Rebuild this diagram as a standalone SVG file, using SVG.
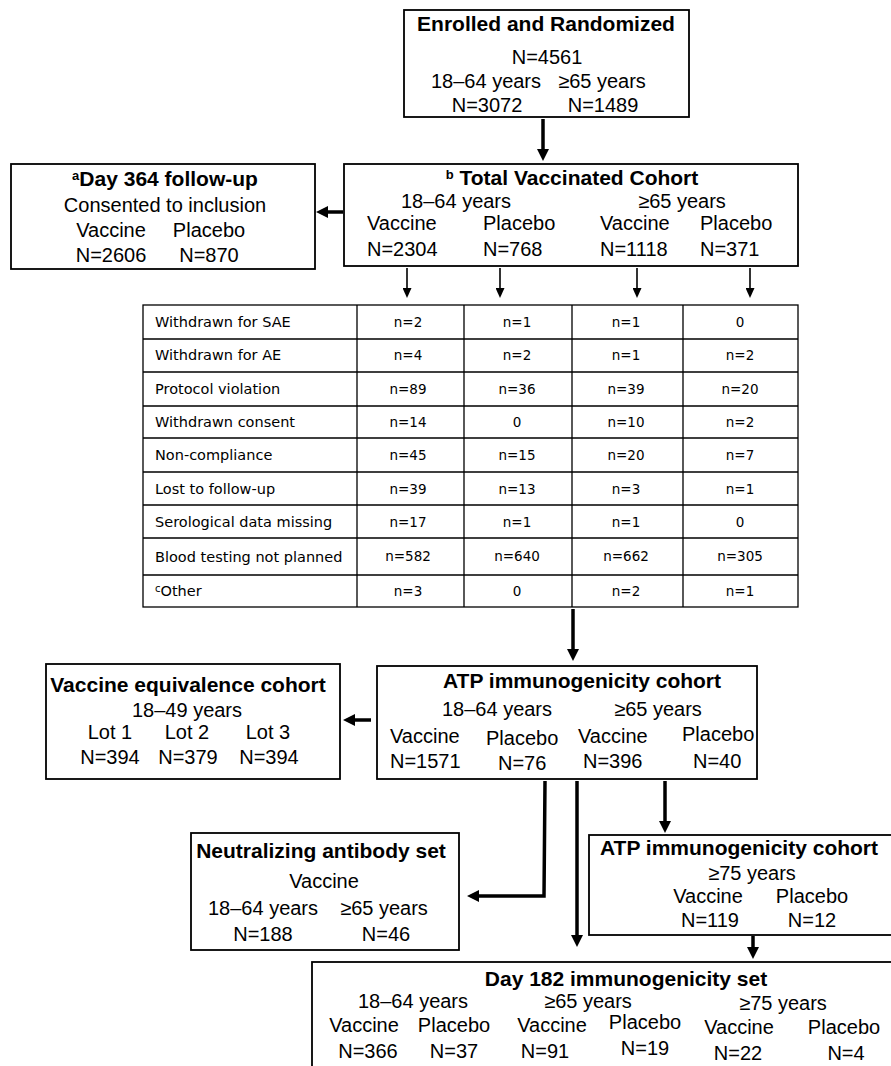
<svg xmlns="http://www.w3.org/2000/svg" width="891" height="1066" viewBox="0 0 891 1066">
<style>
text{font-family:"Liberation Sans",Arial,sans-serif;font-size:20px;fill:#000}
.t{font-weight:bold;font-size:21px}
.m{text-anchor:middle}
.box{fill:#fff;stroke:#000;stroke-width:1.8}
.thick{fill:none;stroke:#000;stroke-width:3.5}
.thin{fill:none;stroke:#000;stroke-width:1.6}
.tab{fill:none;stroke:#000;stroke-width:1.3}
.lb{font-family:"DejaVu Sans",sans-serif;font-size:14.5px}
.nv{font-family:"DejaVu Sans",sans-serif;font-size:13.5px;text-anchor:middle}
</style>
<defs>
<marker id="hk" markerUnits="userSpaceOnUse" markerWidth="13" markerHeight="12" refX="3" refY="6" orient="auto">
<path d="M0,0 L12,6 L0,12 z" fill="#000"/>
</marker>
<marker id="hn" markerUnits="userSpaceOnUse" markerWidth="11" markerHeight="9" refX="2" refY="4.5" orient="auto">
<path d="M0,0 L10,4.5 L0,9 z" fill="#000"/>
</marker>
</defs>
<rect width="891" height="1066" fill="#fff"/>

<g id="connectors">
<line class="thick" x1="543" y1="119" x2="543" y2="152" marker-end="url(#hk)"/>
<line class="thick" x1="343" y1="212" x2="325" y2="212" marker-end="url(#hk)"/>
<line class="thin" x1="407" y1="268" x2="407" y2="290" marker-end="url(#hn)"/>
<line class="thin" x1="500" y1="268" x2="500" y2="290" marker-end="url(#hn)"/>
<line class="thin" x1="637" y1="268" x2="637" y2="290" marker-end="url(#hn)"/>
<line class="thin" x1="750" y1="268" x2="750" y2="290" marker-end="url(#hn)"/>
<line class="thick" x1="573" y1="609" x2="573" y2="652" marker-end="url(#hk)"/>
<line class="thick" x1="371" y1="720" x2="352" y2="720" marker-end="url(#hk)"/>
<path class="thick" d="M545,781 L544,896 L476,896" marker-end="url(#hk)"/>
<line class="thick" x1="577" y1="781" x2="577" y2="938" marker-end="url(#hk)"/>
<line class="thick" x1="665" y1="781" x2="665" y2="824" marker-end="url(#hk)"/>
<line class="thick" x1="753" y1="936" x2="753" y2="950" marker-end="url(#hk)"/>
</g>

<g id="enrolled">
<rect class="box" x="404" y="10" width="285" height="107"/>
<text class="t m" x="546" y="31">Enrolled and Randomized</text>
<text class="m" x="547" y="64">N=4561</text>
<text class="m" x="486" y="88">18–64 years</text>
<text class="m" x="602" y="88">≥65 years</text>
<text class="m" x="487" y="112">N=3072</text>
<text class="m" x="603" y="112">N=1489</text>
</g>

<g id="day364">
<rect class="box" x="11" y="164" width="304" height="105"/>
<text class="t m" x="165" y="186"><tspan font-size="13" dy="-6">a</tspan><tspan dy="6">Day 364 follow-up</tspan></text>
<text class="m" x="165" y="212">Consented to inclusion</text>
<text class="m" x="111" y="237">Vaccine</text>
<text class="m" x="209" y="237">Placebo</text>
<text class="m" x="111" y="262">N=2606</text>
<text class="m" x="209" y="262">N=870</text>
</g>

<g id="tvc">
<rect class="box" x="344" y="164" width="454" height="102"/>
<text class="t m" x="572" y="185"><tspan font-size="13" dy="-6">b</tspan><tspan dy="6"> Total Vaccinated Cohort</tspan></text>
<text class="m" x="456" y="208">18–64 years</text>
<text class="m" x="682" y="208">≥65 years</text>
<text x="367" y="230">Vaccine</text>
<text x="483" y="230">Placebo</text>
<text x="600" y="230">Vaccine</text>
<text x="700" y="230">Placebo</text>
<text x="367" y="256">N=2304</text>
<text x="483" y="256">N=768</text>
<text x="600" y="256">N=1118</text>
<text x="700" y="256">N=371</text>
</g>

<g id="withdrawals">
<rect class="tab" x="143" y="305" width="655" height="302"/>
<path class="tab" d="M357,305V607M464,305V607M572,305V607M683,305V607M143,339H798M143,372H798M143,406H798M143,438H798M143,472H798M143,505H798M143,538H798M143,575H798"/>
<text class="lb" x="155" y="327">Withdrawn for SAE</text>
<text class="lb" x="155" y="360">Withdrawn for AE</text>
<text class="lb" x="155" y="394">Protocol violation</text>
<text class="lb" x="155" y="427">Withdrawn consent</text>
<text class="lb" x="155" y="460">Non-compliance</text>
<text class="lb" x="155" y="494">Lost to follow-up</text>
<text class="lb" x="155" y="527">Serological data missing</text>
<text class="lb" x="155" y="562">Blood testing not planned</text>
<text class="lb" x="155" y="596"><tspan font-size="10" dy="-4">c</tspan><tspan dy="4">Other</tspan></text>
<text class="nv" x="408" y="327">n=2</text><text class="nv" x="517" y="327">n=1</text><text class="nv" x="626" y="327">n=1</text><text class="nv" x="740" y="327">0</text>
<text class="nv" x="408" y="360">n=4</text><text class="nv" x="517" y="360">n=2</text><text class="nv" x="626" y="360">n=1</text><text class="nv" x="740" y="360">n=2</text>
<text class="nv" x="408" y="394">n=89</text><text class="nv" x="517" y="394">n=36</text><text class="nv" x="626" y="394">n=39</text><text class="nv" x="740" y="394">n=20</text>
<text class="nv" x="408" y="427">n=14</text><text class="nv" x="517" y="427">0</text><text class="nv" x="626" y="427">n=10</text><text class="nv" x="740" y="427">n=2</text>
<text class="nv" x="408" y="460">n=45</text><text class="nv" x="517" y="460">n=15</text><text class="nv" x="626" y="460">n=20</text><text class="nv" x="740" y="460">n=7</text>
<text class="nv" x="408" y="494">n=39</text><text class="nv" x="517" y="494">n=13</text><text class="nv" x="626" y="494">n=3</text><text class="nv" x="740" y="494">n=1</text>
<text class="nv" x="408" y="527">n=17</text><text class="nv" x="517" y="527">n=1</text><text class="nv" x="626" y="527">n=1</text><text class="nv" x="740" y="527">0</text>
<text class="nv" x="408" y="561">n=582</text><text class="nv" x="517" y="561">n=640</text><text class="nv" x="626" y="561">n=662</text><text class="nv" x="740" y="561">n=305</text>
<text class="nv" x="408" y="596">n=3</text><text class="nv" x="517" y="596">0</text><text class="nv" x="626" y="596">n=2</text><text class="nv" x="740" y="596">n=1</text>
</g>

<g id="atp">
<rect class="box" x="377" y="666" width="380" height="113"/>
<text class="t m" x="582" y="688">ATP immunogenicity cohort</text>
<text class="m" x="497" y="716">18–64 years</text>
<text class="m" x="658" y="716">≥65 years</text>
<text x="390" y="743">Vaccine</text>
<text x="486" y="745">Placebo</text>
<text x="578" y="743">Vaccine</text>
<text x="682" y="741">Placebo</text>
<text x="390" y="768">N=1571</text>
<text x="498" y="770">N=76</text>
<text x="583" y="768">N=396</text>
<text x="693" y="768">N=40</text>
</g>

<g id="equivalence">
<rect class="box" x="46" y="664" width="294" height="115"/>
<text class="t m" x="188" y="692">Vaccine equivalence cohort</text>
<text class="m" x="187" y="717">18–49 years</text>
<text class="m" x="110" y="739">Lot 1</text>
<text class="m" x="187" y="739">Lot 2</text>
<text class="m" x="268" y="739">Lot 3</text>
<text class="m" x="110" y="764">N=394</text>
<text class="m" x="188" y="764">N=379</text>
<text class="m" x="269" y="764">N=394</text>
</g>

<g id="neutralizing">
<rect class="box" x="191" y="833" width="268" height="117"/>
<text class="t m" x="321" y="858">Neutralizing antibody set</text>
<text class="m" x="324" y="888">Vaccine</text>
<text class="m" x="263" y="915">18–64 years</text>
<text class="m" x="384" y="915">≥65 years</text>
<text class="m" x="263" y="941">N=188</text>
<text class="m" x="386" y="941">N=46</text>
</g>

<g id="atp75">
<rect class="box" x="589" y="835" width="310" height="100"/>
<text class="t m" x="739" y="855">ATP immunogenicity cohort</text>
<text class="m" x="752" y="880">≥75 years</text>
<text class="m" x="708" y="903">Vaccine</text>
<text class="m" x="812" y="903">Placebo</text>
<text class="m" x="710" y="927">N=119</text>
<text class="m" x="812" y="927">N=12</text>
</g>

<g id="day182">
<rect class="box" x="312" y="962" width="590" height="120"/>
<text class="t m" x="626" y="986" font-size="20">Day 182 immunogenicity set</text>
<text class="m" x="413" y="1008">18–64 years</text>
<text class="m" x="588" y="1008">≥65 years</text>
<text class="m" x="783" y="1010">≥75 years</text>
<text class="m" x="364" y="1032">Vaccine</text>
<text class="m" x="454" y="1032">Placebo</text>
<text class="m" x="552" y="1032">Vaccine</text>
<text class="m" x="645" y="1029">Placebo</text>
<text class="m" x="739" y="1034">Vaccine</text>
<text class="m" x="844" y="1034">Placebo</text>
<text class="m" x="368" y="1058">N=366</text>
<text class="m" x="454" y="1058">N=37</text>
<text class="m" x="545" y="1058">N=91</text>
<text class="m" x="645" y="1055">N=19</text>
<text class="m" x="738" y="1060">N=22</text>
<text class="m" x="846" y="1060">N=4</text>
</g>
</svg>
